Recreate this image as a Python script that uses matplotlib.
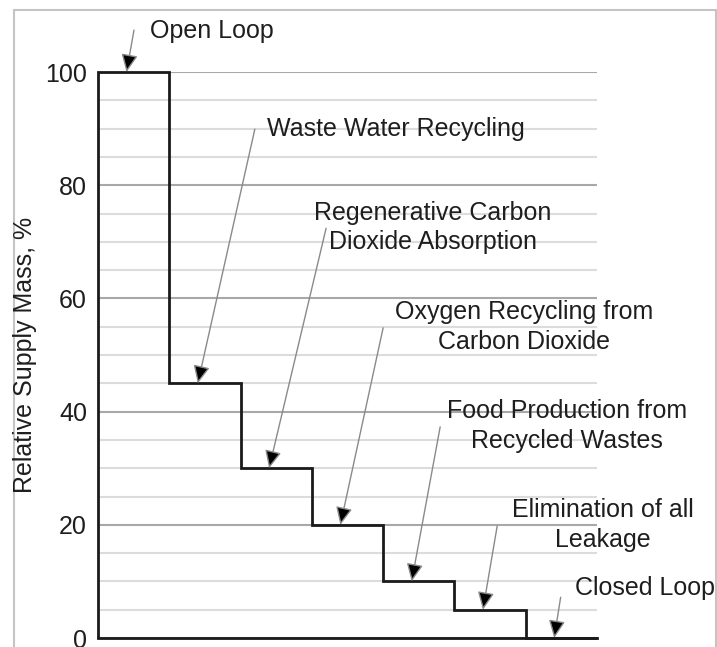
import matplotlib
matplotlib.use("Agg")
import matplotlib.pyplot as plt
from matplotlib.patches import Rectangle

# ---- data ----
stages = ["Open Loop", "Waste Water Recycling", "Regenerative Carbon\nDioxide Absorption",
          "Oxygen Recycling from\nCarbon Dioxide", "Food Production from\nRecycled Wastes",
          "Elimination of all\nLeakage", "Closed Loop"]
supply_mass = [100, 45, 30, 20, 10, 5, 0]
yticks = [0, 20, 40, 60, 80, 100]

# label placement (data coords): text position, arrow tail, alignment
label_xy = [(0.73, 107.2), (2.37, 89.9), (4.70, 72.5), (5.98, 54.9),
            (6.58, 37.5), (7.08, 20.0), (6.69, 8.8)]
tail_xy = [(0.505, 107.4), (2.20, 89.9), (3.20, 72.4), (4.00, 54.8),
           (4.80, 37.3), (5.60, 19.8), (6.49, 7.2)]
label_ha = ["left", "left", "center", "center", "center", "center", "left"]

plt.rcParams['font.family'] = ['Liberation Sans', 'DejaVu Sans']
FS = 18
TXT = "#1e1e1e"

W, H = 717, 647
fig = plt.figure(figsize=(W / 100, H / 100), dpi=100)
ax = fig.add_axes([98 / W, (H - 638) / H, (597 - 98) / W, (638 - 72) / H])

# outer frame
fig.patches.append(Rectangle((14 / W, -0.2), (716 - 14) / W, 0.2 + (H - 10) / H,
                             transform=fig.transFigure, fill=False,
                             edgecolor="#c4c4c4", linewidth=1.5, zorder=0))

n = len(supply_mass)
ax.set_xlim(0, n)
ax.set_ylim(0, 100)

ax.set_yticks(yticks)
ax.set_yticks(range(0, 101, 5), minor=True)
ax.set_xticks([])
ax.grid(which="minor", axis="y", color="#dcdcdc", linewidth=1.5, zorder=0)
ax.grid(which="major", axis="y", color="#a8a8a8", linewidth=1.5, zorder=0)
ax.set_axisbelow(True)
ax.tick_params(axis="y", which="both", length=0, pad=8, labelsize=FS, labelcolor=TXT)
for s in ax.spines.values():
    s.set_visible(False)

ax.stairs(supply_mass, edges=range(n + 1), baseline=0, fill=False,
          color="#1a1a1a", linewidth=2, clip_on=False, zorder=3)
ax.axhline(0, color="#1a1a1a", linewidth=2, clip_on=False, zorder=3)

for i, (txt, (tx, ty), (ax0, ay0), ha) in enumerate(zip(stages, label_xy, tail_xy, label_ha)):
    ax.text(tx, ty, txt, ha=ha, va="center", fontsize=FS, color=TXT,
            linespacing=1.3, clip_on=False, zorder=5)
    ax.annotate("", xy=(i + 0.4, supply_mass[i]), xytext=(ax0, ay0),
                annotation_clip=False,
                arrowprops=dict(arrowstyle="-|>,head_length=0.6,head_width=0.28",
                                edgecolor="#8a8a8a", facecolor="black",
                                linewidth=1.0, shrinkA=0, shrinkB=0,
                                mutation_scale=FS),
                zorder=6)

fig.text(25 / W, (H - 355) / H, "Relative Supply Mass, %", rotation=90,
         ha="center", va="center", fontsize=FS, color=TXT)

fig.savefig("out.png", dpi=100)
